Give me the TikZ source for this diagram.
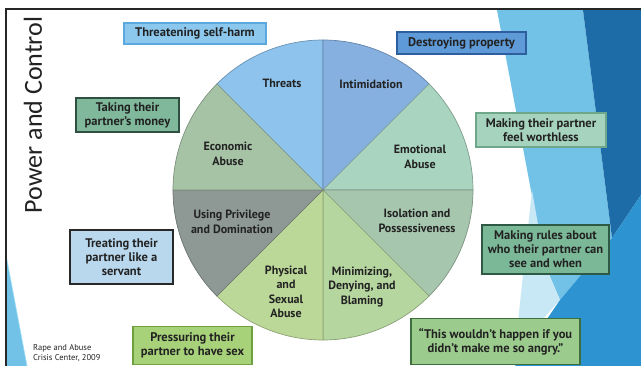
\documentclass[tikz,border=0pt]{standalone}
\usepackage{fontspec}
\setmainfont{PT Sans}
\newfontfamily\titlefont{Carlito}
\definecolor{cThreat}{HTML}{8DC3EC}
\definecolor{cIntim}{HTML}{86B0E0}
\definecolor{cEmot}{HTML}{A9D4BF}
\definecolor{cIsol}{HTML}{A7C6AE}
\definecolor{cMini}{HTML}{B6D6A0}
\definecolor{cPhys}{HTML}{BCD898}
\definecolor{cPriv}{HTML}{8E9996}
\definecolor{cEcon}{HTML}{A6C3A6}
\definecolor{bgLight}{HTML}{72C2E8}
\definecolor{bgPale}{HTML}{C9E8F6}
\definecolor{bgDark}{HTML}{1D6CA7}
\definecolor{bgMid}{HTML}{2E93D1}
\definecolor{txt}{HTML}{222222}
\definecolor{dA}{RGB}{90,168,222}\definecolor{fA}{RGB}{140,200,238}
\definecolor{dB}{RGB}{47,80,64}\definecolor{fB}{RGB}{127,184,154}
\definecolor{dC}{RGB}{47,94,158}\definecolor{fC}{RGB}{94,154,216}
\definecolor{dD}{RGB}{111,167,138}\definecolor{fD}{RGB}{166,211,190}
\definecolor{dE}{RGB}{40,40,40}\definecolor{fE}{RGB}{185,216,238}
\definecolor{dF}{RGB}{110,160,64}\definecolor{fF}{RGB}{168,210,122}
\definecolor{dG}{RGB}{46,90,69}\definecolor{fG}{RGB}{123,184,152}
\definecolor{dH}{RGB}{62,110,62}\definecolor{fH}{RGB}{156,203,142}
\tikzset{
  sect/.style={draw=#1!75!black, line width=0.7pt},
  slabel/.style={font=\bfseries\fontsize{12}{14.5}\selectfont, text=txt, align=center, inner sep=0pt},
  box/.style={draw=#1, line width=1.2pt, align=center, inner sep=0pt,
    font=\bfseries\fontsize{12.5}{14}\selectfont, text=txt},
}
\begin{document}
\begin{tikzpicture}[x=1pt,y=-1pt]
\useasboundingbox (0,0) rectangle (641,366);
\fill[white] (0,0) rectangle (641,366);
% background shapes
\fill[bgLight] (497,10) -- (583,10) -- (612,238) -- (560,300) -- (545,265) -- cycle;
\fill[bgPale] (532,190) -- (545,265) -- (560,300) -- (515,350) -- cycle;
\fill[bgDark] (583,10) -- (641,10) -- (641,195) -- (612,238) -- cycle;
\fill[bgMid] (612,238) -- (641,195) -- (641,366) -- (515,366) -- (560,300) -- cycle;
\fill[bgLight] (6,255) -- (27,366) -- (6,366) -- cycle;
\draw[cyan!40, line width=0.6pt] (6,255) -- (27,366);
% frame
\draw[line width=2pt, black!85] (6,366) -- (6,9) -- (641,9);
% title
\node[rotate=90, font=\titlefont\fontsize{26}{26}\selectfont, text=txt, inner sep=0pt] (title) at (33,115) {Power and Control};
% wheel
\coordinate (C) at (323,190);
\filldraw[fill=cThreat, sect=cThreat] (C) -- ++(-90:150) arc[start angle=-90, end angle=-135, radius=150] -- cycle;
\filldraw[fill=cIntim, sect=cIntim] (C) -- ++(-45:150) arc[start angle=-45, end angle=-90, radius=150] -- cycle;
\filldraw[fill=cEmot, sect=cEmot] (C) -- ++(0:150) arc[start angle=0, end angle=-45, radius=150] -- cycle;
\filldraw[fill=cIsol, sect=cIsol] (C) -- ++(45:150) arc[start angle=45, end angle=0, radius=150] -- cycle;
\filldraw[fill=cMini, sect=cMini] (C) -- ++(90:150) arc[start angle=90, end angle=45, radius=150] -- cycle;
\filldraw[fill=cPhys, sect=cPhys] (C) -- ++(135:150) arc[start angle=135, end angle=90, radius=150] -- cycle;
\filldraw[fill=cPriv, sect=cPriv] (C) -- ++(180:150) arc[start angle=180, end angle=135, radius=150] -- cycle;
\filldraw[fill=cEcon, sect=cEcon] (C) -- ++(-135:150) arc[start angle=-135, end angle=-180, radius=150] -- cycle;
% sector labels
\node[slabel] (threats) at (282,83) {Threats};
\node[slabel] (intim) at (371,84) {Intimidation};
\node[slabel] (econ) at (228,154) {Economic\\Abuse};
\node[slabel] (emot) at (420,157) {Emotional\\Abuse};
\node[slabel] (priv) at (232,222) {Using Privilege\\and Domination};
\node[slabel] (isol) at (417,221) {Isolation and\\Possessiveness};
\node[slabel] (phys) at (286,292) {Physical\\and\\Sexual\\Abuse};
\node[slabel] (mini) at (362,287) {Minimizing,\\Denying, and\\Blaming};
% example boxes
\node[box=dA, fill=fA, minimum width=142pt, minimum height=21pt] (b1) at (195,33.5) {Threatening self-harm};
\node[box=dB, fill=fB, minimum width=103pt, minimum height=34pt] (b2) at (127.5,115) {Taking their\\partner’s money};
\node[box=dC, fill=fC, minimum width=129pt, minimum height=22pt] (b3) at (461.5,43) {Destroying property};
\node[box=dD, fill=fD, minimum width=130pt, minimum height=34pt] (b4) at (541,130) {Making their partner\\feel worthless};
\node[box=dE, fill=fE, minimum width=103pt, minimum height=54pt] (b5) at (121.5,257) {Treating their\\partner like a\\servant};
\node[box=dF, fill=fF, minimum width=119pt, minimum height=38pt] (b6) at (192.5,345.5) {Pressuring their\\partner to have sex};
\node[box=dG, fill=fG, minimum width=127pt, minimum height=49pt] (b7) at (545.5,249.5) {Making rules about\\who their partner can\\see and when};
\node[box=dH, fill=fH, minimum width=169pt, minimum height=46pt] (b8) at (495.5,341.5) {“This wouldn't happen if you\\didn't make me so angry.”};
% source
\node[anchor=north west, align=left, inner sep=0pt, font=\fontsize{8.5}{10}\selectfont, text=txt] (src) at (33,344) {Rape and Abuse\\Crisis Center, 2009};
\end{tikzpicture}
\end{document}
